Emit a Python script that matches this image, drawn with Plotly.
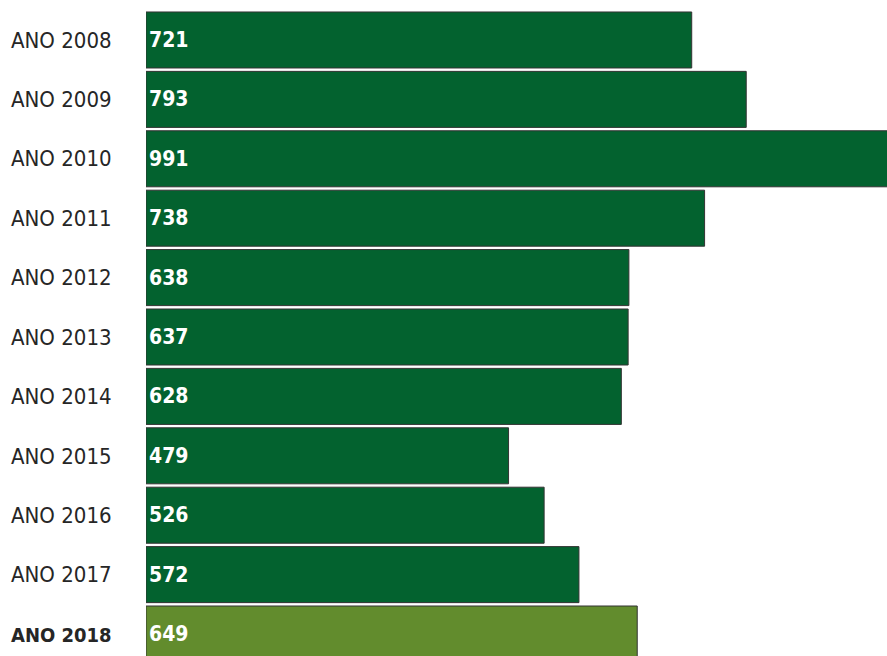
import plotly.graph_objects as go

years = ["ANO 2008", "ANO 2009", "ANO 2010", "ANO 2011", "ANO 2012", "ANO 2013",
         "ANO 2014", "ANO 2015", "ANO 2016", "ANO 2017", "ANO 2018"]
values = [721, 793, 991, 738, 638, 637, 628, 479, 526, 572, 649]
highlight_year = "ANO 2018"

DARK = "#03622F"
LIGHT = "#628C2D"
FONT = "DejaVu Sans Condensed, Liberation Sans Narrow, sans-serif"

colors = [LIGHT if y == highlight_year else DARK for y in years]
ticktext = [f'<span style="font-size:20px"><b>{y}</b></span>' if y == highlight_year else y
            for y in years]
idx = list(range(len(years)))

fig = go.Figure(go.Bar(
    x=values, y=idx, orientation="h",
    marker=dict(color=colors, line=dict(color="#333333", width=1)),
    text=[f"<b>{v}</b>" for v in values],
    textposition="inside", insidetextanchor="start",
    textfont=dict(color="white", size=21, family=FONT),
    cliponaxis=True,
    hoverinfo="skip",
))

fig.update_layout(
    width=887, height=656,
    margin=dict(l=146, r=0, t=0, b=0, pad=0),
    plot_bgcolor="white", paper_bgcolor="white",
    bargap=0.057,
    showlegend=False,
    font=dict(family=FONT, color="#262626"),
)
fig.update_xaxes(range=[0, 979], showgrid=False, zeroline=False, showticklabels=False,
                 showline=False, automargin=False)
fig.update_yaxes(range=[10.37, -0.673], tickmode="array", tickvals=idx, ticktext=ticktext,
                 showgrid=False, zeroline=False, showline=False, automargin=False,
                 ticks="outside", ticklen=29, tickcolor="rgba(0,0,0,0)",
                 tickfont=dict(size=22, family=FONT, color="#262626"))

fig.write_html("out.html", config={"displayModeBar": False},
               post_script="document.body.style.margin='0';")
